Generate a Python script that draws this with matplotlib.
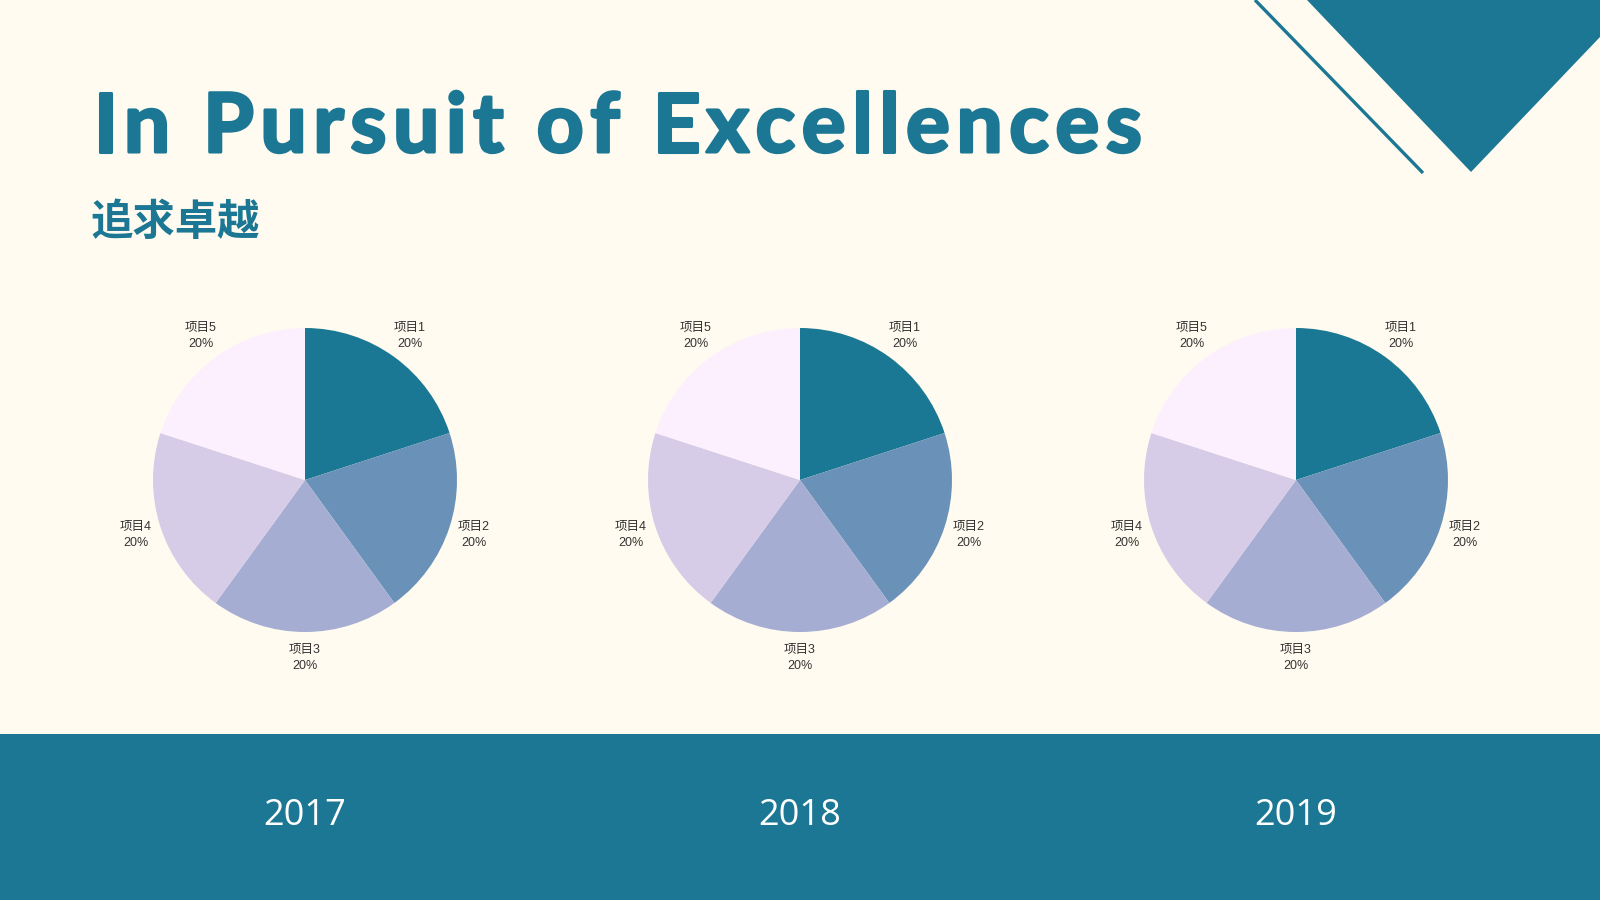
import matplotlib
matplotlib.use('Agg')
import matplotlib.pyplot as plt
import matplotlib.patheffects as pe
from matplotlib.patches import Polygon, Rectangle
from matplotlib.font_manager import FontProperties

# chart data
categories = ['项目1', '项目2', '项目3', '项目4', '项目5']
years = ['2017', '2018', '2019']
values_2017 = [20, 20, 20, 20, 20]
values_2018 = [20, 20, 20, 20, 20]
values_2019 = [20, 20, 20, 20, 20]
year_values = [values_2017, values_2018, values_2019]

title = 'In Pursuit of Excellences'
subtitle = '追求卓越'

teal = '#1b7793'
bg = '#fffbf0'
slice_colors = ['#1b7894', '#6a92b8', '#a5add3', '#d7cce8', '#fdf0fe']

plt.rcParams['font.family'] = ['Liberation Sans', 'Noto Sans CJK SC', 'DejaVu Sans']

W, H = 1600, 900
fig = plt.figure(figsize=(16, 9), dpi=100, facecolor=bg)

# background layer in pixel coordinates
bgax = fig.add_axes([0, 0, 1, 1])
bgax.set_xlim(0, W)
bgax.set_ylim(H, 0)
bgax.axis('off')
bgax.set_facecolor(bg)

# bottom band
bgax.add_patch(Rectangle((0, 734), W, H - 734, color=teal, lw=0))
# corner triangle and stripe
bgax.add_patch(Polygon([(1307, 0), (1471, 172), (1600, 37), (1600, 0)], closed=True, color=teal, lw=0))
bgax.plot([1255, 1423], [0, 173], color=teal, lw=2.4, solid_capstyle='butt')

# title, spread out letter by letter (wide tracking like the original)
title_fp = FontProperties(family=['Lato', 'DejaVu Sans'], weight='bold', size=59)
renderer = fig.canvas.get_renderer()
thick = [pe.withStroke(linewidth=2.2, foreground=teal)]


def ink_width(s):
    w, h, d = renderer.get_text_width_height_descent(s, title_fp, ismath=False)
    return w


left, right = 93, 1142
natural = ink_width(title)
track = (right - left - natural) / (len(title) - 1)
for k, ch in enumerate(title):
    if ch == ' ':
        continue
    x = left + ink_width(title[:k + 1]) - ink_width(ch) + k * track
    bgax.text(x, 152, ch, fontproperties=title_fp, color=teal, ha='left', va='baseline',
              path_effects=thick)

bgax.text(90, 223, subtitle, fontsize=30.5, fontweight='bold', family=['Noto Sans CJK SC'],
          color=teal, va='center', ha='left')

centers = [305, 800, 1296]
cy = 480
r = 152
half = r * 1.4

for i, cx in enumerate(centers):
    ax = fig.add_axes([(cx - half) / W, (H - cy - half) / H, 2 * half / W, 2 * half / H])
    vals = year_values[i]
    total = sum(vals)
    labels = ['%s\n%d%%' % (c, round(v / total * 100)) for c, v in zip(categories, vals)]
    wedges, texts = ax.pie(vals, labels=labels, colors=slice_colors, startangle=90,
                           counterclock=False, labeldistance=1.17,
                           textprops={'fontsize': 9, 'color': '#333333', 'linespacing': 1.5},
                           wedgeprops={'linewidth': 0})
    for t in texts:
        t.set_ha('center')
        t.set_va('center')
    ax.set_xlim(-1.4, 1.4)
    ax.set_ylim(-1.4, 1.4)
    ax.set_aspect('equal')
    ax.axis('off')

    bgax.text(cx, 816, years[i], fontsize=26, color='white', family=['Open Sans', 'DejaVu Sans'],
              ha='center', va='center')

fig.savefig('out.png', dpi=100, facecolor=bg)
